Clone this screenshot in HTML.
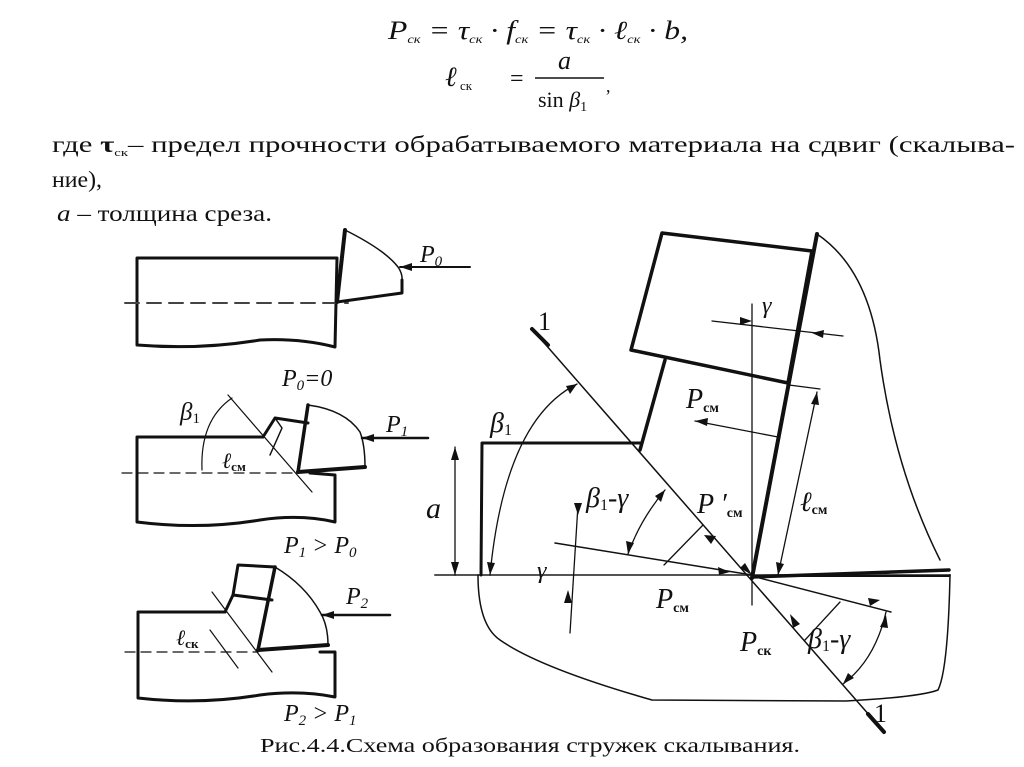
<!DOCTYPE html>
<html><head><meta charset="utf-8"><style>
html,body{margin:0;padding:0;background:#fff;}
svg{display:block;}
text{font-family:"Liberation Serif",serif;fill:#111;}
.i{font-style:italic;}
</style></head><body>
<svg width="1024" height="767" viewBox="0 0 1024 767" xmlns="http://www.w3.org/2000/svg">
<!-- formulas -->
<text x="388" y="39" font-size="26" class="i" textLength="300" lengthAdjust="spacingAndGlyphs">P<tspan font-size="12" dy="4">ск</tspan><tspan dy="-4"> = τ</tspan><tspan font-size="12" dy="4">ск</tspan><tspan dy="-4"> · f</tspan><tspan font-size="12" dy="4">ск</tspan><tspan dy="-4"> = τ</tspan><tspan font-size="12" dy="4">ск</tspan><tspan dy="-4"> · ℓ</tspan><tspan font-size="12" dy="4">ск</tspan><tspan dy="-4"> · b,</tspan></text>
<text x="445" y="86" font-size="28" class="i">ℓ</text>
<text x="460" y="90" font-size="13">ск</text>
<text x="510" y="86" font-size="24">=</text>
<text x="558" y="69" font-size="26" class="i">a</text>
<line x1="535" y1="78" x2="604" y2="78" stroke="#111" stroke-width="1.5"/>
<text x="538" y="107" font-size="22">sin <tspan class="i">β</tspan><tspan font-size="14" dy="4">1</tspan></text>
<text x="606" y="92" font-size="18">,</text>
<!-- paragraph -->
<text x="52" y="152" font-size="23" textLength="963" lengthAdjust="spacingAndGlyphs">где  <tspan font-weight="bold">τ</tspan><tspan font-size="11" dy="4">ск</tspan><tspan dy="-4">– предел прочности обрабатываемого материала на сдвиг (скалыва-</tspan></text>
<text x="52" y="187" font-size="23" textLength="50" lengthAdjust="spacingAndGlyphs">ние),</text>
<text x="57" y="221" font-size="23" textLength="215" lengthAdjust="spacingAndGlyphs"><tspan class="i">a</tspan> – толщина среза.</text>

<g fill="none" stroke="#111" stroke-linecap="round" stroke-linejoin="round">
<!-- Fig1 -->
<path d="M337 258 L137 258 L137 345 Q200 350 260 340 Q300 338 335 347 L337 258" stroke-width="3"/>
<line x1="125" y1="303" x2="348" y2="303" stroke-width="2" stroke-dasharray="14,8" stroke="#444"/>
<path d="M345 230 L337 302" stroke-width="4"/>
<path d="M337 302 L402 293 L402 280" stroke-width="3"/>
<path d="M345 230 Q385 250 398 267 Q403 274 402 282" stroke-width="1.5"/>
<line x1="470" y1="267" x2="400" y2="267" stroke-width="2"/>
<!-- Fig2 -->
<path d="M263 437 L137 437 L137 522 Q200 530 260 520 Q300 514 335 522 L335 475 L310 473" stroke-width="3"/>
<line x1="122" y1="473" x2="298" y2="473" stroke-width="1.2" stroke-dasharray="10,6"/>
<path d="M298 472 L365 467" stroke-width="4"/>
<path d="M298 472 L308 405" stroke-width="3.5"/>
<path d="M308 405 Q345 410 360 432 Q365 445 365 467" stroke-width="1.5"/>
<path d="M263 437 L275 418 L308 423" stroke-width="3"/>
<path d="M275 418 L282 428 L270 455" stroke-width="1.5"/>
<line x1="228" y1="395" x2="312" y2="492" stroke-width="1.2"/>
<path d="M232 398 Q200 420 202 470" stroke-width="1.2"/>
<line x1="428" y1="438" x2="362" y2="438" stroke-width="2.5"/>
<!-- Fig3 -->
<path d="M225 612 L138 612 L138 698 Q200 705 260 695 Q300 690 335 697 L335 652 L320 652" stroke-width="3"/>
<line x1="125" y1="652" x2="258" y2="652" stroke-width="1.2" stroke-dasharray="10,6"/>
<path d="M258 650 L328 645" stroke-width="4"/>
<path d="M258 650 L275 567" stroke-width="3.5"/>
<path d="M275 567 Q305 585 320 612 Q328 625 328 645" stroke-width="1.5"/>
<path d="M225 612 L233 595 L238 565 L275 567" stroke-width="3"/>
<path d="M233 595 L272 600" stroke-width="3"/>
<line x1="212" y1="592" x2="272" y2="672" stroke-width="1.2"/>
<line x1="210" y1="630" x2="238" y2="668" stroke-width="1.2"/>
<line x1="390" y1="615" x2="322" y2="615" stroke-width="2.5"/>

<!-- Big figure -->
<line x1="435" y1="575" x2="950" y2="575" stroke-width="2" stroke="#555"/>
<path d="M640 443 L482 443 L481 575" stroke-width="3"/>
<path d="M478 575 Q478 625 500 640 Q540 668 652 700 L846 701 Q920 697 938 690 Q948 670 950 575" stroke-width="1.5"/>
<path d="M662 233 L812 251 L788 383 L631 350 Z" stroke-width="3.5"/>
<path d="M817 234 L752 578" stroke-width="4"/>
<path d="M665 360 L640 450" stroke-width="3.5"/>
<path d="M817 234 Q870 270 880 360 Q895 470 940 560" stroke-width="1.5"/>
<path d="M752 577 L949 570" stroke-width="3.5"/>
<path d="M752 576 L949 576" stroke-width="2"/>
<line x1="532" y1="329" x2="884" y2="732" stroke-width="1.5"/>
<line x1="532" y1="329" x2="548" y2="345" stroke-width="4"/>
<line x1="868" y1="714" x2="884" y2="732" stroke-width="4"/>
<line x1="752" y1="304" x2="752" y2="605" stroke-width="1.3"/>
<path d="M577 384 Q505 420 490 575" stroke-width="1.3"/>
<line x1="712" y1="321" x2="843" y2="336" stroke-width="1.3"/>
<line x1="778" y1="437" x2="695" y2="421" stroke-width="1.3"/>
<line x1="789" y1="385" x2="820" y2="389" stroke-width="1.3"/>
<line x1="817" y1="392" x2="778" y2="575" stroke-width="1.3"/>
<line x1="455" y1="447" x2="455" y2="575" stroke-width="1.3"/>
<line x1="555" y1="543" x2="752" y2="575" stroke-width="1.5"/>
<line x1="703" y1="525" x2="664" y2="565" stroke-width="1.3"/>
<path d="M665 490 Q640 520 628 554" stroke-width="1.3"/>
<line x1="578" y1="505" x2="570" y2="633" stroke-width="1.3"/>
<line x1="752" y1="576" x2="891" y2="612" stroke-width="1.5"/>
<line x1="840" y1="602" x2="805" y2="640" stroke-width="1.3"/>
<path d="M886 612 Q875 660 843 684" stroke-width="1.3"/>
</g>
<!-- arrowheads -->
<g fill="#111">
<polygon points="400,267 412,263 412,271"/>
<polygon points="362,438 374,434 374,442"/>
<polygon points="322,615 334,611 334,619"/>
<polygon points="695,421 708,418 707,426"/>
<polygon points="752,575 740,568 745,563"/>
<polygon points="577,384 566,386 570,394"/>
<polygon points="490,575 487,562 495,563"/>
<polygon points="455,447 451,460 459,460"/>
<polygon points="455,575 451,562 459,562"/>
<polygon points="817,392 811,404 819,405"/>
<polygon points="778,575 776,562 784,564"/>
<polygon points="704,535 716,536 711,544"/>
<polygon points="730,572 718,567 719,575"/>
<polygon points="628,554 626,541 634,543"/>
<polygon points="665,490 655,496 661,502"/>
<polygon points="578,515 574,503 582,503"/>
<polygon points="568,590 564,603 572,603"/>
<polygon points="752,321 740,317 740,325"/>
<polygon points="812,333 824,330 823,338"/>
<polygon points="790,614 800,624 793,628"/>
<polygon points="880,600 868,598 870,606"/>
<polygon points="886,615 880,627 888,628"/>
<polygon points="843,684 848,673 854,678"/>
</g>
<!-- labels -->
<g class="i" font-size="26">
<text x="420" y="262" font-size="24">P<tspan font-size="15" dy="4">0</tspan></text>
<text x="282" y="386" font-size="24">P<tspan font-size="15" dy="4">0</tspan><tspan dy="-4">=0</tspan></text>
<text x="180" y="420" font-size="25">β<tspan font-size="15" dy="3" font-style="normal">1</tspan></text>
<text x="222" y="468" font-size="22">ℓ<tspan font-size="13" dy="3" font-style="normal" font-weight="bold">см</tspan></text>
<text x="386" y="432" font-size="24">P<tspan font-size="15" dy="4">1</tspan></text>
<text x="284" y="553" font-size="24">P<tspan font-size="15" dy="4">1</tspan><tspan dy="-4"> &gt; P</tspan><tspan font-size="15" dy="4">0</tspan></text>
<text x="346" y="604" font-size="24">P<tspan font-size="15" dy="4">2</tspan></text>
<text x="176" y="645" font-size="22">ℓ<tspan font-size="13" dy="3" font-style="normal" font-weight="bold">ск</tspan></text>
<text x="284" y="721" font-size="24">P<tspan font-size="15" dy="4">2</tspan><tspan dy="-4"> &gt; P</tspan><tspan font-size="15" dy="4">1</tspan></text>

<text x="538" y="330" font-size="26" font-style="normal">1</text>
<text x="490" y="432" font-size="28">β<tspan font-size="16" dy="3" font-style="normal">1</tspan></text>
<text x="426" y="518" font-size="30">a</text>
<text x="686" y="408" font-size="28">P<tspan font-size="14" dy="4" font-style="normal" font-weight="bold">см</tspan></text>
<text x="762" y="313" font-size="24">γ</text>
<text x="586" y="507" font-size="28">β<tspan font-size="16" dy="3" font-style="normal">1</tspan><tspan dy="-3">-γ</tspan></text>
<text x="697" y="513" font-size="28">P ′<tspan font-size="14" dy="4" font-style="normal" font-weight="bold">см</tspan></text>
<text x="800" y="511" font-size="28">ℓ<tspan font-size="14" dy="3" font-style="normal" font-weight="bold">см</tspan></text>
<text x="537" y="578" font-size="24">γ</text>
<text x="656" y="608" font-size="28">P<tspan font-size="14" dy="4" font-style="normal" font-weight="bold">см</tspan></text>
<text x="740" y="651" font-size="28">P<tspan font-size="14" dy="4" font-style="normal" font-weight="bold">ск</tspan></text>
<text x="808" y="648" font-size="28">β<tspan font-size="16" dy="3" font-style="normal">1</tspan><tspan dy="-3">-γ</tspan></text>
<text x="874" y="722" font-size="26" font-style="normal">1</text>
</g>
<text x="260" y="752" font-size="20" textLength="540" lengthAdjust="spacingAndGlyphs">Рис.4.4.Схема образования стружек скалывания.</text>
</svg>
</body></html>
